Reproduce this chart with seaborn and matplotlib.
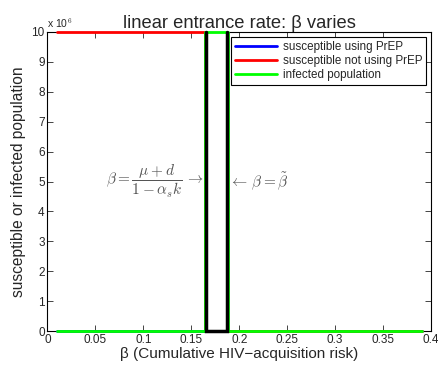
import numpy as np
import pandas as pd
import matplotlib
matplotlib.use("Agg")
import matplotlib.pyplot as plt
import seaborn as sns
from matplotlib.ticker import FuncFormatter, MultipleLocator

# ---- data ----
beta = [0.01, 0.1645, 0.1645, 0.1885, 0.1885, 0.39]
susceptible_prep = [0, 0, 0, 0, 0, 0]
susceptible_noprep = [1e7, 1e7, 0, 0, 0, 0]
infected = [0, 0, 1e7, 1e7, 0, 0]
thresholds = [0.1655, 0.1875]
series_names = ["susceptible using PrEP", "susceptible not using PrEP", "infected population"]
colors = ["#0000ff", "#ff0000", "#00ff00"]

df = pd.DataFrame({
    "beta": beta * 3,
    "value": susceptible_prep + susceptible_noprep + infected,
    "series": [series_names[0]] * len(beta) + [series_names[1]] * len(beta) + [series_names[2]] * len(beta),
})

sns.set_theme(style="white")
plt.rcParams["font.family"] = ["Liberation Sans", "DejaVu Sans"]
plt.rcParams["mathtext.fontset"] = "cm"

fig = plt.figure(figsize=(4.39, 3.75), dpi=100)
ax = fig.add_axes([0.108, 0.117, 0.874, 0.798])

sns.lineplot(data=df, x="beta", y="value", hue="series", hue_order=series_names,
             palette=colors, estimator=None, sort=False, linewidth=2, ax=ax)
for ln in ax.get_lines():
    ln.set_clip_on(False)
    ln.set_zorder(4)

# black threshold outline (open at the top) drawn over the curves
ax.plot([thresholds[0], thresholds[0], thresholds[1], thresholds[1]], [1e7, 0, 0, 1e7],
        color="black", linewidth=2.5, zorder=5, clip_on=False, solid_joinstyle="miter")

ax.set_xlim(0, 0.4)
ax.set_ylim(0, 1e7)
ax.xaxis.set_major_locator(MultipleLocator(0.05))
ax.yaxis.set_major_locator(MultipleLocator(1e6))
ax.xaxis.set_major_formatter(FuncFormatter(lambda v, p: "0" if abs(v) < 1e-9 else f"{v:g}"))
ax.yaxis.set_major_formatter(FuncFormatter(lambda v, p: f"{v/1e6:g}"))
ax.tick_params(direction="in", length=4, width=0.6, labelsize=8.5, top=True, right=True,
               bottom=True, left=True, pad=2)
for s in ax.spines.values():
    s.set_color("black")
    s.set_linewidth(0.8)

ax.set_xlabel("β (Cumulative HIV−acquisition risk)", fontsize=11, labelpad=1)
ax.set_ylabel("susceptible or infected population", fontsize=11.2, labelpad=4)
ax.set_title("linear entrance rate: β varies", fontsize=13.2, pad=3)
ax.text(0.0, 1.005, r"x 10$^6$", transform=ax.transAxes, fontsize=7.5, ha="left", va="bottom")

ax.text(0.163, 5e6, r"$\beta = \dfrac{\mu + d}{1-\alpha_s k}\,\rightarrow$", color="#555555",
        fontsize=11, ha="right", va="center")
ax.text(0.1895, 5e6, r"$\leftarrow\,\beta = \tilde{\beta}$", color="#555555",
        fontsize=11, ha="left", va="center")

leg = ax.legend(loc="upper right", fontsize=8.4, frameon=True, fancybox=False,
                edgecolor="black", handlelength=3.6, borderaxespad=0.4,
                borderpad=0.35, labelspacing=0.2, handletextpad=0.5)
leg.get_frame().set_linewidth(0.8)
leg.get_frame().set_alpha(1)
leg.set_zorder(10)

fig.savefig("out.png", dpi=100)
